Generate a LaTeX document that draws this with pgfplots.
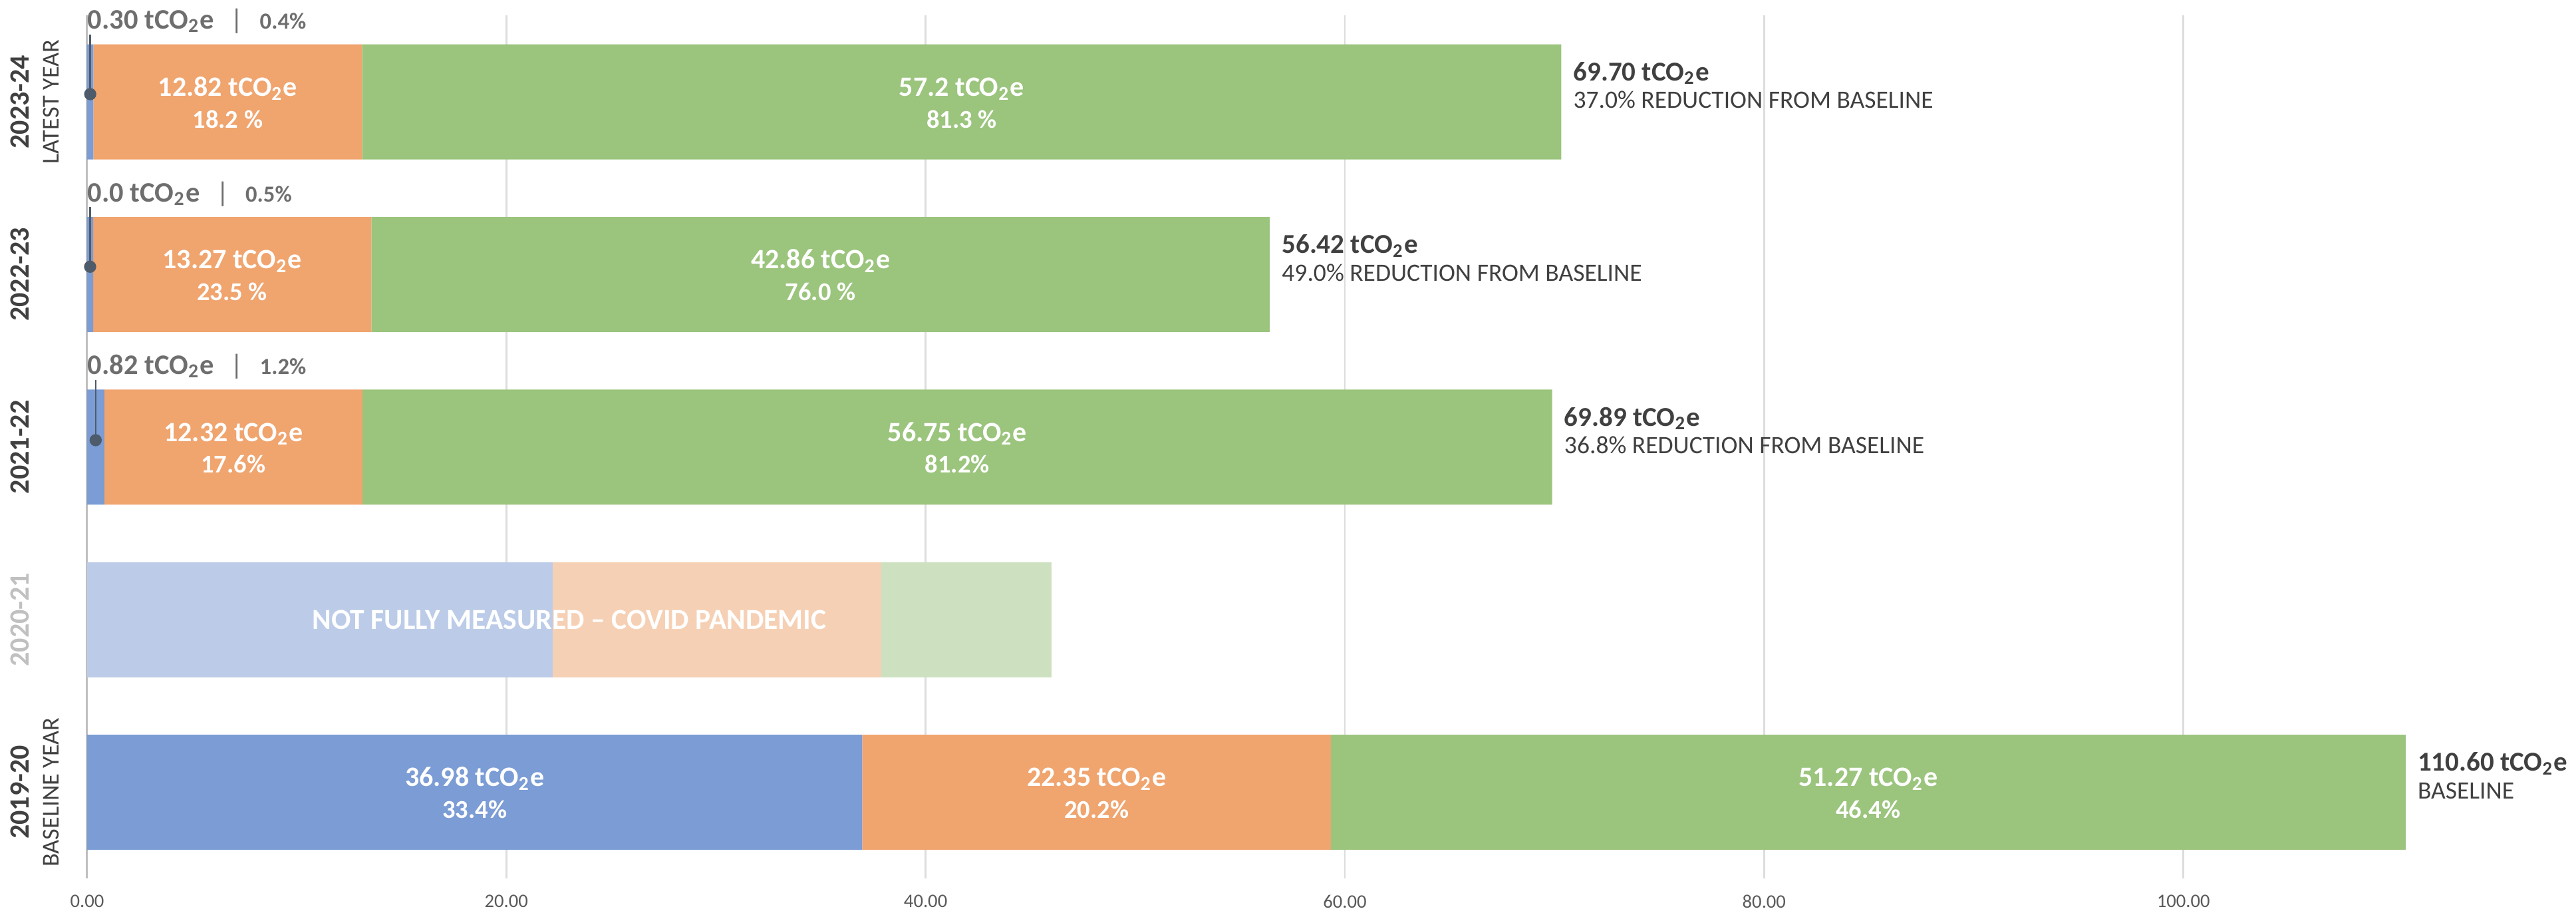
\documentclass[border=0pt]{standalone}
\usepackage{pgfplots}
\pgfplotsset{compat=1.18}
\usepackage{fontspec}
\setmainfont{Carlito}
\definecolor{cblue}{HTML}{7B9CD4}
\definecolor{corange}{HTML}{F0A46E}
\definecolor{cgreen}{HTML}{9BC47D}
\definecolor{lblue}{HTML}{BCCCE8}
\definecolor{lorange}{HTML}{F6D0B4}
\definecolor{lgreen}{HTML}{CDE1C0}
\definecolor{dark}{HTML}{404040}
\definecolor{tgrey}{HTML}{6E6E6E}
\definecolor{ticktext}{HTML}{595959}
\definecolor{gridgrey}{HTML}{DDDDDD}
\definecolor{axisgrey}{HTML}{BFBFBF}
\definecolor{leader}{HTML}{4D5B6B}
\definecolor{fadedyear}{HTML}{C0C0C0}
\newcommand{\tco}{tCO\textsubscript{2}e}
\newcommand{\inlab}[4]{%
  \node[anchor=base, inner sep=0, font=\bfseries\fontsize{8.5}{9}\selectfont, text=white, yshift=1.75pt] at (axis cs:#1,#2) {#3};
  \node[anchor=base, inner sep=0, font=\bfseries\fontsize{7.8}{9}\selectfont, text=white, yshift=-7.9pt] at (axis cs:#1,#2) {#4};}
\newcommand{\rlab}[4]{%
  \node[anchor=base west, inner sep=0, font=\bfseries\fontsize{8.3}{9}\selectfont, text=dark] at ([shift={(3.5pt,6.4pt)}]axis cs:#1,#2) {#3};
  \node[anchor=base west, inner sep=0, font=\fontsize{7.6}{9}\selectfont, text=dark] at ([shift={(3.5pt,-1.95pt)}]axis cs:#1,#2) {#4};}
\newcommand{\tlab}[3]{%
  \node[anchor=base west, inner sep=0, font=\bfseries\fontsize{8.6}{9}\selectfont, text=tgrey] at ([shift={(0pt,22.15pt)}]axis cs:0,#1) {#2\hspace{5pt}{\mdseries\fontsize{8.5}{9}\selectfont|}\hspace{5pt}{\fontsize{7}{8}\selectfont #3}};}
\newcommand{\ylab}[3]{%
  \node[rotate=90, anchor=center, inner sep=0, font=\bfseries\fontsize{8.5}{9}\selectfont, text=#3] at ([shift={(-20.5pt,0pt)}]axis cs:0,#1) {#2};}
\newcommand{\ysub}[2]{%
  \node[rotate=90, anchor=center, inner sep=0, font=\fontsize{7.35}{9}\selectfont, text=dark] at ([shift={(-11pt,0pt)}]axis cs:0,#1) {#2};}
\begin{document}
\begin{tikzpicture}
\pgfplotsset{every axis/.append style={
  scale only axis, width=757.5pt, height=262.5pt,
  xmin=0, xmax=118.73, ymin=-0.5, ymax=4.5}}
\begin{axis}[
  xbar stacked, bar width=35pt,
  axis x line*=bottom, axis y line*=left,
  axis line style={-},
  x axis line style={draw=none},
  y axis line style={draw=axisgrey, line width=0.6pt},
  xtick={0,20,40,60,80,100},
  xticklabels={0.00,20.00,40.00,60.00,80.00,100.00},
  ytick=\empty,
  major tick length=0pt,
  xmajorgrids, grid style={draw=gridgrey, line width=0.5pt},
  xticklabel style={anchor=center, yshift=-7pt, font=\fontsize{5.8}{6}\selectfont, text=ticktext},
  clip=false,
]
\addplot[fill=cblue, draw=none] coordinates {(36.98,0) (0,1) (0.82,2) (0.29,3) (0.30,4)};
\addplot[fill=corange, draw=none] coordinates {(22.35,0) (0,1) (12.32,2) (13.27,3) (12.82,4)};
\addplot[fill=cgreen, draw=none] coordinates {(51.27,0) (0,1) (56.75,2) (42.86,3) (57.2,4)};
\addplot[fill=lblue, draw=none] coordinates {(0,0) (22.2,1) (0,2) (0,3) (0,4)};
\addplot[fill=lorange, draw=none] coordinates {(0,0) (15.7,1) (0,2) (0,3) (0,4)};
\addplot[fill=lgreen, draw=none] coordinates {(0,0) (8.1,1) (0,2) (0,3) (0,4)};
\coordinate (SW) at (rel axis cs:0,0);
\coordinate (NE) at (rel axis cs:1,1);
\end{axis}
\begin{axis}[hide axis, clip=false]
\addplot[leader, line width=0.5pt, mark=*, mark size=1.6pt, mark indices={1}, mark options={fill=leader, draw=leader}] coordinates {(0.15,4.045) (0.15,4.39)};
\addplot[leader, line width=0.5pt, mark=*, mark size=1.6pt, mark indices={1}, mark options={fill=leader, draw=leader}] coordinates {(0.145,3.045) (0.145,3.39)};
\addplot[leader, line width=0.5pt, mark=*, mark size=1.6pt, mark indices={1}, mark options={fill=leader, draw=leader}] coordinates {(0.41,2.04) (0.41,2.39)};

% labels inside bars
\inlab{6.71}{4}{12.82 \tco}{18.2 \%}
\inlab{41.72}{4}{57.2 \tco}{81.3 \%}
\inlab{6.925}{3}{13.27 \tco}{23.5 \%}
\inlab{34.99}{3}{42.86 \tco}{76.0 \%}
\inlab{6.98}{2}{12.32 \tco}{17.6\%}
\inlab{41.515}{2}{56.75 \tco}{81.2\%}
\inlab{18.49}{0}{36.98 \tco}{33.4\%}
\inlab{48.155}{0}{22.35 \tco}{20.2\%}
\inlab{84.965}{0}{51.27 \tco}{46.4\%}
\node[anchor=center, inner sep=0, font=\bfseries\fontsize{8.8}{9}\selectfont, text=white] at (axis cs:23.0,1) {NOT FULLY MEASURED -- COVID PANDEMIC};

% totals
\rlab{70.32}{4}{69.70 \tco}{37.0\% REDUCTION FROM BASELINE}
\rlab{56.42}{3}{56.42 \tco}{49.0\% REDUCTION FROM BASELINE}
\rlab{69.89}{2}{69.89 \tco}{36.8\% REDUCTION FROM BASELINE}
\rlab{110.60}{0}{110.60 \tco}{BASELINE}

% small labels above
\tlab{4}{0.30 \tco}{0.4\%}
\tlab{3}{0.0 \tco}{0.5\%}
\tlab{2}{0.82 \tco}{1.2\%}

% year labels
\ylab{4}{2023-24}{dark}
\ysub{4}{LATEST YEAR}
\ylab{3}{2022-23}{dark}
\ylab{2}{2021-22}{dark}
\ylab{1}{2020-21}{fadedyear}
\ylab{0}{2019-20}{dark}
\ysub{0}{BASELINE YEAR}
\end{axis}
\pgfresetboundingbox
\path ([shift={(-26.5pt,-11pt)}]SW) rectangle ([shift={(0pt,4.75pt)}]NE);
\end{tikzpicture}
\end{document}
